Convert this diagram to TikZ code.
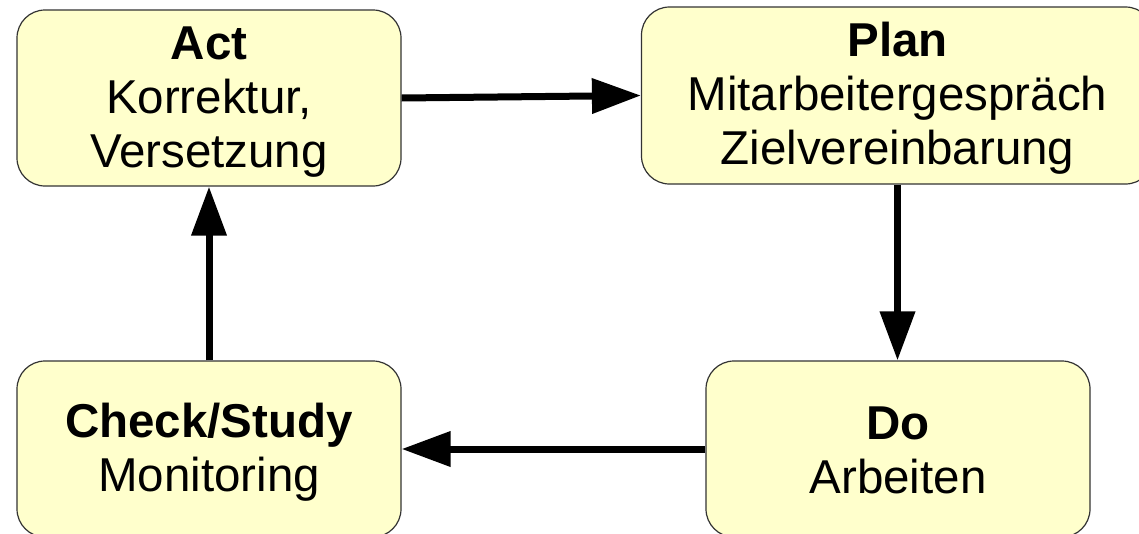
\documentclass[tikz,border=0pt]{standalone}
\usepackage{fontspec}
\setmainfont{Liberation Sans}
\usetikzlibrary{arrows.meta}
\definecolor{boxfill}{HTML}{FFFFCC}
\definecolor{boxline}{HTML}{333333}
\newcommand{\pdcastrut}{\rule[-6pt]{0pt}{46pt}}
\begin{document}
\begin{tikzpicture}[x=1pt,y=-1pt,
  pdcabox/.style={draw=boxline, line width=1.2pt, fill=boxfill, rounded corners=28pt,
    inner sep=0pt, minimum width=384pt, minimum height=176pt, align=center,
    font=\fontsize{47.5pt}{54pt}\selectfont},
  flow/.style={line width=7pt, -{Triangle[length=49pt,width=34pt]}}]
\useasboundingbox (0,0) rectangle (1139,533);
\node[pdcabox] (act) at (209,98) {\pdcastrut\textbf{Act}\\Korrektur,\\ \pdcastrut Versetzung};
\node[pdcabox, minimum width=512pt, minimum height=177pt] (plan) at (897.5,95.5)
  {\pdcastrut\textbf{Plan}\\Mitarbeitergespräch\\ \pdcastrut Zielvereinbarung};
\node[pdcabox] (do) at (898,449) {\pdcastrut\textbf{Do}\\ \pdcastrut Arbeiten};
\node[pdcabox] (check) at (209,449) {\pdcastrut\textbf{Check/Study}\\ \pdcastrut Monitoring};
\draw[flow] (act.east) -- (plan.west);
\draw[flow] (plan.south) -- (plan.south |- do.north);
\draw[flow] (do.west) -- (check.east);
\draw[flow] (check.north) -- (act.south);
\end{tikzpicture}
\end{document}
